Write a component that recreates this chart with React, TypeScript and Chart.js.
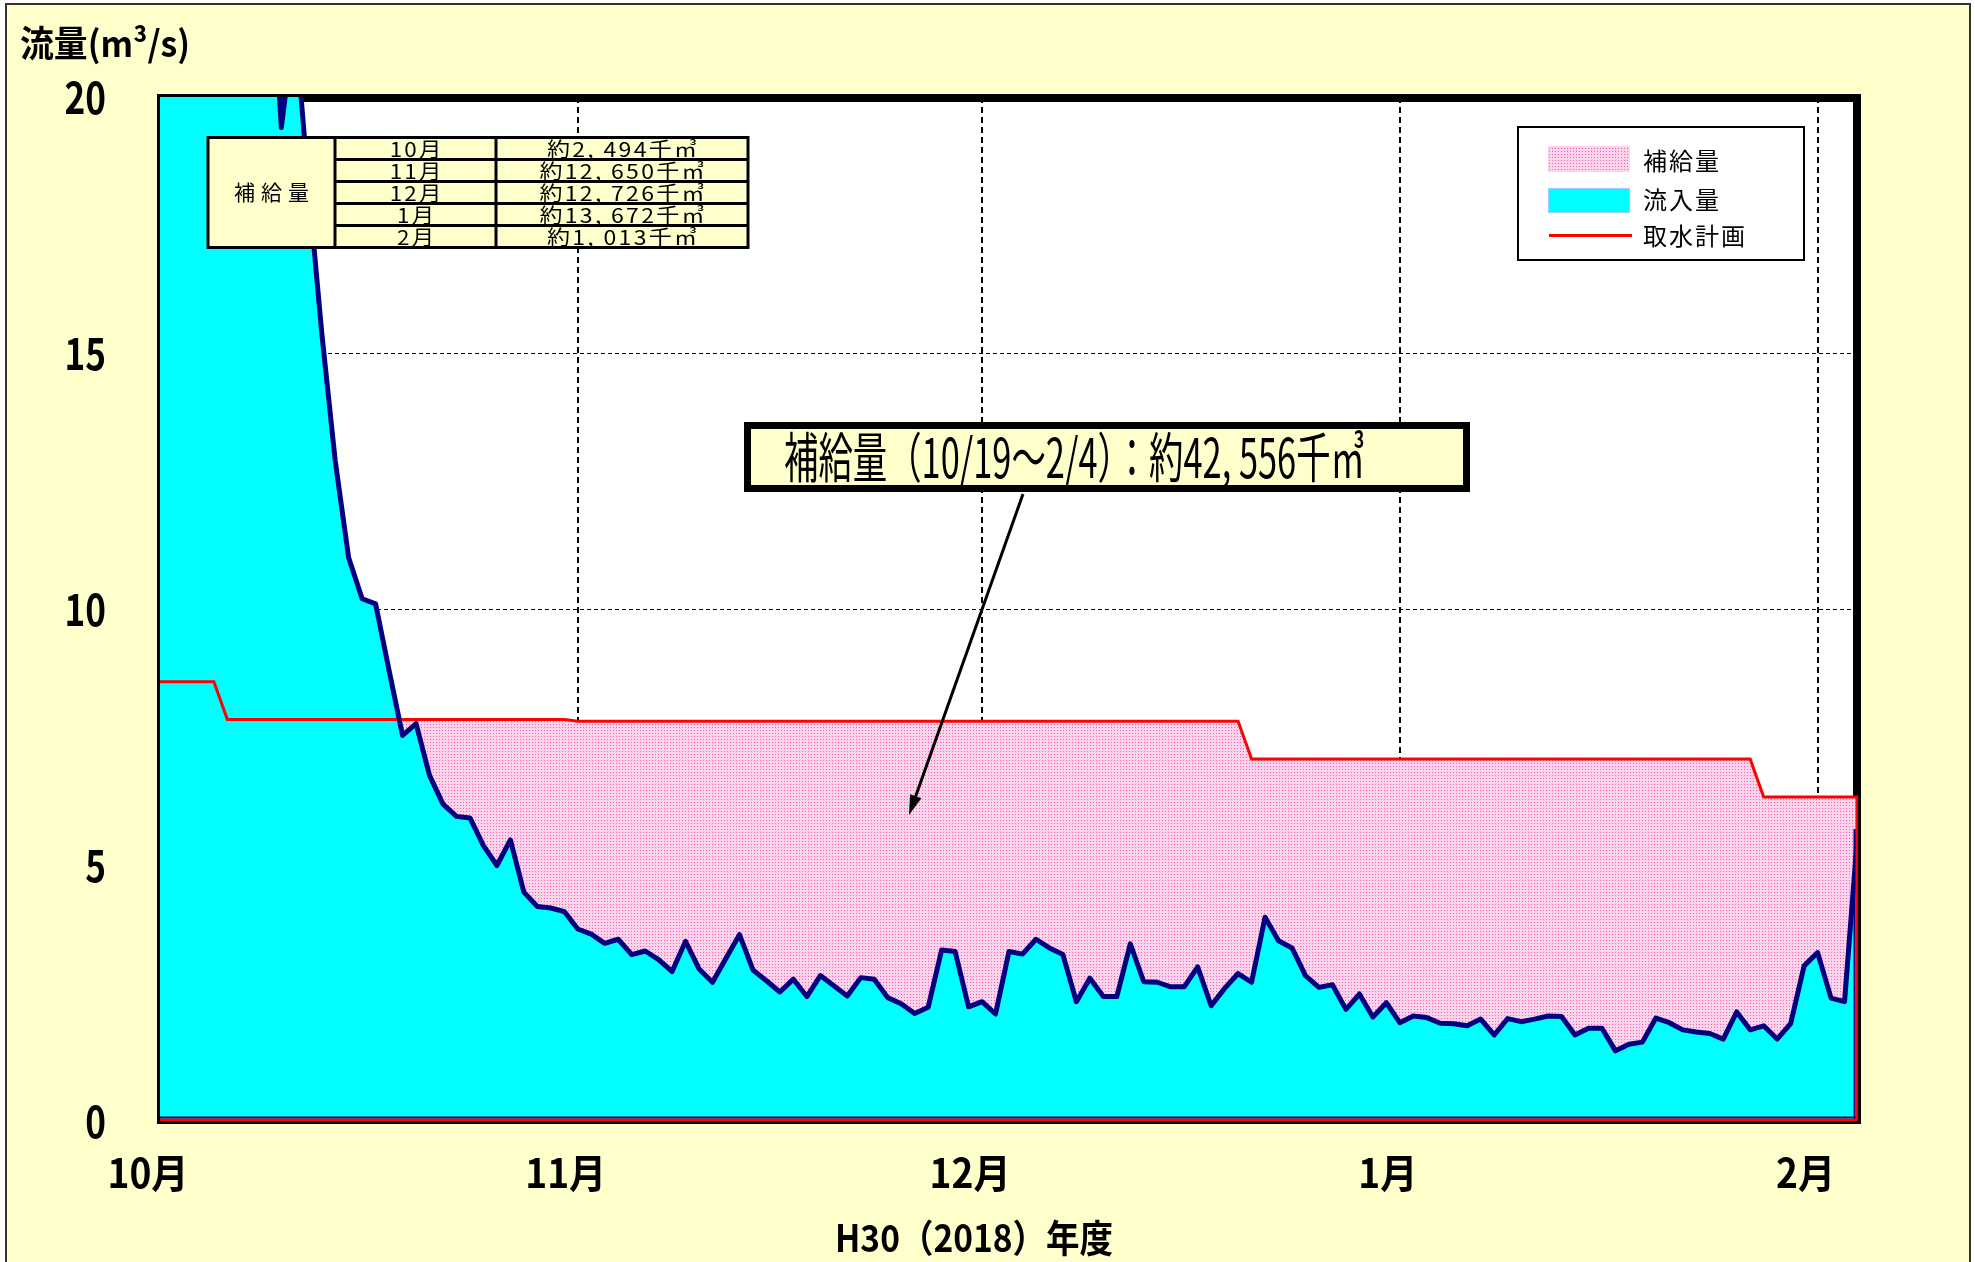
import React, { useEffect, useRef } from "react";
import { Chart, registerables } from "chart.js";

Chart.register(...registerables);

const W = 1975;
const H = 1262;

// x axis = days counted from 1 Oct 2018 (day 126 = 4 Feb 2019)
const monthStartDays = [0, 31, 61, 92, 123];
const monthLabels = ["10月", "11月", "12月", "1月", "2月"];
const xMax = 126;
const yMax = 20;
const yStep = 5;

// daily inflow (m3/s), day 0 .. day 126
const inflow = [
  32, 35, 38, 36, 33, 30, 28, 26, 24, 19.4,
  21.5, 18.3, 15.4, 12.9, 11.0, 10.2, 10.1, 8.8, 7.53, 7.76,
  6.75, 6.19, 5.95, 5.92, 5.38, 4.99, 5.49, 4.47, 4.19, 4.16,
  4.09, 3.75, 3.65, 3.47, 3.55, 3.25, 3.32, 3.15, 2.92, 3.51,
  2.97, 2.71, 3.18, 3.64, 2.95, 2.74, 2.52, 2.77, 2.43, 2.84,
  2.64, 2.44, 2.8, 2.77, 2.41, 2.29, 2.1, 2.22, 3.34, 3.31,
  2.23, 2.33, 2.09, 3.31, 3.26, 3.55, 3.38, 3.25, 2.33, 2.79,
  2.43, 2.43, 3.46, 2.72, 2.71, 2.62, 2.62, 3.01, 2.25, 2.59,
  2.88, 2.71, 3.98, 3.52, 3.38, 2.84, 2.61, 2.66, 2.18, 2.48,
  2.03, 2.31, 1.92, 2.05, 2.02, 1.91, 1.9, 1.86, 1.99, 1.68,
  2.0, 1.94, 1.99, 2.05, 2.04, 1.68, 1.81, 1.81, 1.37, 1.5,
  1.54, 2.01, 1.92, 1.78, 1.74, 1.71, 1.6, 2.13, 1.78, 1.86,
  1.6, 1.9, 3.03, 3.29, 2.4, 2.33, 5.7,
];

// intake plan (m3/s): vertices of the step line
const planDays = [0, 4, 5, 30, 31, 80, 81, 118, 119, 126];
const planValues = [8.58, 8.58, 7.84, 7.84, 7.81, 7.81, 7.07, 7.07, 6.33, 6.33];

const seriesNames = ["補給量", "流入量", "取水計画"];
const tableTitle = "補給量";
const tableMonths = ["10月", "11月", "12月", "1月", "2月"];
const tableAmounts = ["約2, 494千㎥", "約12, 650千㎥", "約12, 726千㎥", "約13, 672千㎥", "約1, 013千㎥"];
const totalNote = "補給量（10/19～2/4）：約42, 556千㎥";
const yTitle = "流量(m³/s)";
const xTitle = "H30（2018）年度";

const CYAN = "#00FFFF";
const NAVY = "#000080";
const RED = "#FF0000";
const PAPER = "#FFFFCC";
const CJK = "'Noto Sans CJK JP', sans-serif";

function makePattern(ctx: CanvasRenderingContext2D): CanvasPattern {
  const c = document.createElement("canvas");
  c.width = 3;
  c.height = 3;
  const g = c.getContext("2d")!;
  g.fillStyle = "#FAD4EA";
  g.fillRect(0, 0, 3, 3);
  g.fillStyle = "#FF5CBE";
  g.fillRect(1, 1, 1, 1);
  return ctx.createPattern(c, "repeat")!;
}

// draw text with a horizontal scale factor and optional letter spacing
function drawText(
  ctx: CanvasRenderingContext2D,
  text: string,
  x: number,
  y: number,
  font: string,
  opts: { sx?: number; width?: number; spacing?: number; align?: "left" | "center" | "right" } = {}
) {
  ctx.save();
  ctx.font = font;
  const sp = opts.spacing || 0;
  (ctx as any).letterSpacing = sp + "px";
  ctx.textBaseline = "middle";
  ctx.textAlign = "left";
  ctx.fillStyle = "#000";
  const natural = ctx.measureText(text).width - sp;
  const sx = opts.width ? opts.width / natural : opts.sx || 1;
  const w = natural * sx;
  const align = opts.align || "center";
  const x0 = align === "center" ? x - w / 2 : align === "right" ? x - w : x;
  ctx.translate(x0, y);
  ctx.scale(sx, 1);
  ctx.fillText(text, 0, 0);
  ctx.restore();
}

export default function App() {
  const ref = useRef<HTMLCanvasElement | null>(null);

  useEffect(() => {
    document.body.style.margin = "0";
    const canvas = ref.current!;
    const ctx = canvas.getContext("2d")!;
    const pink = makePattern(ctx);

    const deco = {
      id: "deco",
      beforeDraw(chart: any) {
        const c: CanvasRenderingContext2D = chart.ctx;
        const a = chart.chartArea;
        c.save();
        c.fillStyle = "#FFFFFF";
        c.fillRect(0, 0, W, H);
        c.fillStyle = PAPER;
        c.fillRect(6, 4, 1964, H);
        c.strokeStyle = "#333";
        c.lineWidth = 2;
        c.strokeRect(6, 4, 1964, H + 20);
        c.fillStyle = "#FFFFFF";
        c.fillRect(a.left, a.top, a.right - a.left, a.bottom - a.top);
        c.strokeStyle = "#000";
        c.lineWidth = 5;
        c.strokeRect(a.left + 2.5, a.top + 2.5, a.right - a.left - 5, a.bottom - a.top - 5);
        c.restore();
      },
      afterDatasetsDraw(chart: any) {
        const c: CanvasRenderingContext2D = chart.ctx;
        const a = chart.chartArea;
        const xs = chart.scales.x;
        const ys = chart.scales.y;
        const L = a.left, T = a.top, R = a.right, B = a.bottom;
        c.save();
        const yPlanEnd = ys.getPixelForValue(planValues[planValues.length - 1]);
        const yInEnd = ys.getPixelForValue(inflow[inflow.length - 1]);
        c.fillStyle = NAVY;
        c.fillRect(L, B - 4.5, R - L, 2);
        c.fillRect(R - 4.5, yInEnd, 2, B - yInEnd);
        c.fillStyle = RED;
        c.fillRect(L, B - 2.5, R - L, 2.5);
        c.fillRect(R - 2.5, yPlanEnd, 2.5, B - yPlanEnd);
        c.fillStyle = "#000";
        c.fillRect(L - 3, T - 3, R - L + 6, 3);
        c.fillRect(L - 3, T - 3, 3, B - T + 6);
        c.fillRect(R, T - 3, 3, B - T + 6);
        c.fillRect(L - 3, B, R - L + 6, 3);

        // tick labels (condensed, from the scales' own ticks)
        ys.ticks.forEach((t: any) => {
          const lbl = t.label != null ? String(t.label) : String(t.value);
          drawText(c, lbl, L - 54, ys.getPixelForValue(t.value), `bold 44px ${CJK}`, { sx: 0.8, align: "right" });
        });
        xs.ticks.forEach((t: any, i: number) => {
          const lbl = t.label != null && t.label !== "" ? String(t.label) : monthLabels[i];
          drawText(c, lbl, xs.getPixelForValue(t.value) - 12, B + 52, `bold 40px ${CJK}`, { sx: 0.93 });
        });

        // table
        const tx = [208, 335, 496, 748];
        const ty0 = 137.5;
        const rh = 22;
        c.fillStyle = PAPER;
        c.fillRect(tx[0], ty0, tx[3] - tx[0], rh * 5);
        c.strokeStyle = "#000";
        c.lineWidth = 3;
        c.strokeRect(tx[0], ty0, tx[3] - tx[0], rh * 5);
        c.beginPath();
        c.moveTo(tx[1], ty0);
        c.lineTo(tx[1], ty0 + rh * 5);
        c.moveTo(tx[2], ty0);
        c.lineTo(tx[2], ty0 + rh * 5);
        for (let i = 1; i < 5; i++) {
          c.moveTo(tx[1], ty0 + rh * i);
          c.lineTo(tx[3], ty0 + rh * i);
        }
        c.stroke();
        drawText(c, tableTitle, (tx[0] + tx[1]) / 2, ty0 + rh * 2.5, `21px ${CJK}`, { spacing: 6 });
        for (let i = 0; i < 5; i++) {
          const cy = ty0 + rh * i + rh / 2 + 1;
          drawText(c, tableMonths[i], (tx[1] + tx[2]) / 2, cy, `20px ${CJK}`, { spacing: 2, sx: 1.12 });
          drawText(c, tableAmounts[i], (tx[2] + tx[3]) / 2, cy, `20px ${CJK}`, { spacing: 2, sx: 1.15 });
        }

        // total note box
        c.fillStyle = PAPER;
        c.fillRect(744, 422, 726, 70);
        c.strokeStyle = "#000";
        c.lineWidth = 7;
        c.strokeRect(747.5, 425.5, 719, 63);
        drawText(c, totalNote, 1074.5, 457, `54px ${CJK}`, { width: 581 });

        // arrow
        const ax0 = 1023, ay0 = 494, ax1 = 909, ay1 = 815;
        const ang = Math.atan2(ay1 - ay0, ax1 - ax0);
        const hl = 20, hw = 6;
        c.strokeStyle = "#000";
        c.lineWidth = 3;
        c.beginPath();
        c.moveTo(ax0, ay0);
        c.lineTo(ax1 - Math.cos(ang) * hl * 0.8, ay1 - Math.sin(ang) * hl * 0.8);
        c.stroke();
        c.fillStyle = "#000";
        c.beginPath();
        c.moveTo(ax1, ay1);
        c.lineTo(ax1 - Math.cos(ang) * hl - Math.sin(ang) * hw, ay1 - Math.sin(ang) * hl + Math.cos(ang) * hw);
        c.lineTo(ax1 - Math.cos(ang) * hl + Math.sin(ang) * hw, ay1 - Math.sin(ang) * hl - Math.cos(ang) * hw);
        c.closePath();
        c.fill();

        // legend
        c.fillStyle = "#FFFFFF";
        c.fillRect(1517, 126, 288, 135);
        c.strokeStyle = "#000";
        c.lineWidth = 2;
        c.strokeRect(1518, 127, 286, 133);
        c.fillStyle = pink;
        c.fillRect(1548, 146, 82, 26);
        c.fillStyle = CYAN;
        c.fillRect(1548, 188, 82, 25);
        c.strokeStyle = "#99CCFF";
        c.lineWidth = 1;
        c.strokeRect(1548.5, 188.5, 81, 24);
        c.strokeStyle = RED;
        c.lineWidth = 3;
        c.beginPath();
        c.moveTo(1549, 235.5);
        c.lineTo(1632, 235.5);
        c.stroke();
        drawText(c, seriesNames[0], 1643, 161, `24px ${CJK}`, { spacing: 2, align: "left" });
        drawText(c, seriesNames[1], 1643, 200, `24px ${CJK}`, { spacing: 2, align: "left" });
        drawText(c, seriesNames[2], 1643, 236, `24px ${CJK}`, { spacing: 2, align: "left" });

        // axis titles
        drawText(c, yTitle, 20, 43, `bold 36px ${CJK}`, { width: 170, align: "left" });
        drawText(c, xTitle, 974, 1238, `bold 38px ${CJK}`, { width: 278 });
        c.restore();
      },
    };

    const chart = new Chart(ctx, {
      type: "line",
      data: {
        datasets: [
          {
            label: seriesNames[1],
            data: inflow.map((v, i) => ({ x: i, y: v })),
            borderColor: NAVY,
            borderWidth: 5,
            backgroundColor: CYAN,
            fill: "origin",
            pointRadius: 0,
            tension: 0,
            borderJoinStyle: "round",
            borderCapStyle: "round",
          },
          {
            label: seriesNames[2],
            data: planDays.map((d, i) => ({ x: d, y: planValues[i] })),
            borderColor: RED,
            borderWidth: 3,
            backgroundColor: pink,
            fill: { target: "-1", above: pink, below: "rgba(0,0,0,0)" },
            pointRadius: 0,
            tension: 0,
          },
        ] as any,
      },
      options: {
        responsive: false,
        animation: false,
        devicePixelRatio: 1,
        layout: { padding: { left: 0, top: 97, right: 117, bottom: 0 } },
        plugins: {
          legend: { display: false },
          tooltip: { enabled: false },
          filler: { drawTime: "beforeDatasetsDraw" } as any,
        },
        scales: {
          x: {
            type: "linear",
            min: 0,
            max: xMax,
            afterBuildTicks: (s: any) => {
              s.ticks = monthStartDays.map((v) => ({ value: v }));
            },
            afterFit: (s: any) => {
              s.height = 141;
            },
            ticks: {
              display: false,
              callback: (_v: any, i: number) => monthLabels[i],
              autoSkip: false,
              maxRotation: 0,
            },
            grid: {
              color: (c: any) => (c.tick && c.tick.value === 0 ? "rgba(0,0,0,0)" : "#000"),
              lineWidth: 2,
              drawTicks: false,
            },
            border: { display: false, dash: [6, 4] },
          },
          y: {
            min: 0,
            max: yMax,
            afterFit: (s: any) => {
              s.width = 160;
            },
            ticks: {
              display: false,
              stepSize: yStep,
            },
            grid: {
              color: (c: any) =>
                c.tick && (c.tick.value === 0 || c.tick.value === yMax) ? "rgba(0,0,0,0)" : "#000",
              lineWidth: 1,
              drawTicks: false,
            },
            border: { display: false, dash: [4, 3] },
          },
        },
      } as any,
      plugins: [deco],
    });
    return () => chart.destroy();
  }, []);

  return (
    <div style={{ position: "absolute", left: 0, top: 0, width: W, height: H }}>
      <canvas ref={ref} width={W} height={H} style={{ display: "block", width: W, height: H }} />
    </div>
  );
}
